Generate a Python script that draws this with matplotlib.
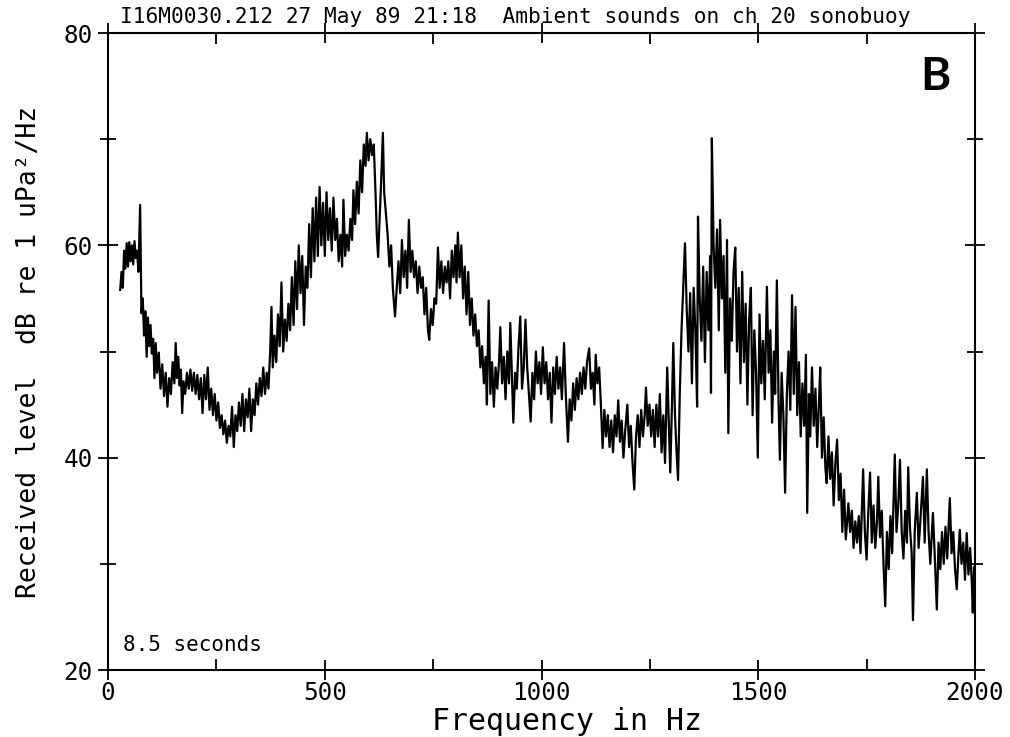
import matplotlib
matplotlib.use('Agg')
import matplotlib.pyplot as plt
from matplotlib.ticker import MultipleLocator

# spectrum (Hz, dB re 1 uPa^2/Hz)
freq_hz = [28, 31, 34, 37, 40, 43, 46, 49, 52, 55,
           58, 61, 64, 67, 70, 74, 77, 80, 83, 86,
           89, 92, 95, 98, 101, 104, 107, 110, 113, 117,
           121, 125, 129, 133, 137, 141, 145, 149, 153, 156,
           159, 162, 165, 168, 171, 174, 178, 182, 186, 190,
           194, 198, 202, 206, 210, 214, 218, 222, 226, 230,
           234, 238, 242, 246, 250, 254, 258, 262, 266, 270,
           274, 278, 282, 286, 290, 294, 298, 302, 306, 310,
           314, 318, 322, 326, 330, 334, 338, 342, 346, 350,
           354, 358, 362, 366, 370, 374, 377, 380, 384, 388,
           392, 396, 400, 404, 408, 412, 416, 420, 424, 428,
           432, 436, 440, 444, 448, 452, 456, 460, 464, 468,
           472, 476, 480, 484, 488, 492, 496, 500, 504, 508,
           512, 516, 520, 524, 528, 532, 536, 540, 543, 547,
           551, 555, 559, 563, 566, 570, 574, 578, 582, 586,
           590, 594, 597, 601, 605, 609, 613, 617, 620, 623,
           627, 630, 634, 637, 641, 645, 649, 653, 657, 662,
           666, 670, 674, 678, 682, 686, 690, 694, 698, 702,
           706, 710, 714, 718, 722, 726, 730, 734, 738, 741,
           745, 749, 753, 757, 761, 765, 769, 773, 777, 781,
           785, 789, 793, 797, 801, 804, 807, 811, 815, 819,
           823, 827, 831, 835, 839, 843, 847, 851, 855, 859,
           863, 867, 871, 874, 878, 882, 886, 890, 894, 898,
           902, 905, 909, 913, 917, 921, 925, 928, 932, 935,
           939, 943, 947, 951, 955, 959, 963, 967, 971, 975,
           979, 983, 987, 991, 995, 999, 1003, 1007, 1011, 1015,
           1019, 1023, 1027, 1031, 1035, 1039, 1043, 1047, 1052, 1056,
           1061, 1065, 1069, 1073, 1077, 1081, 1085, 1089, 1093, 1097,
           1101, 1105, 1110, 1114, 1118, 1122, 1125, 1129, 1133, 1137,
           1141, 1145, 1149, 1153, 1157, 1161, 1165, 1169, 1173, 1177,
           1181, 1185, 1189, 1193, 1198, 1202, 1206, 1210, 1214, 1218,
           1222, 1226, 1230, 1234, 1238, 1241, 1245, 1249, 1253, 1257,
           1261, 1265, 1269, 1273, 1277, 1281, 1285, 1290, 1294, 1297,
           1301, 1304, 1308, 1311, 1315, 1319, 1323, 1327, 1331, 1335,
           1339, 1343, 1347, 1351, 1355, 1359, 1361, 1365, 1369, 1373,
           1377, 1381, 1385, 1389, 1391, 1393, 1397, 1401, 1405, 1409,
           1412, 1416, 1420, 1424, 1428, 1431, 1435, 1439, 1443, 1447,
           1451, 1455, 1459, 1463, 1467, 1471, 1475, 1479, 1483, 1487,
           1491, 1495, 1499, 1503, 1507, 1511, 1515, 1520, 1524, 1528,
           1532, 1536, 1539, 1543, 1547, 1550, 1554, 1558, 1562, 1566,
           1570, 1574, 1578, 1582, 1586, 1590, 1594, 1598, 1602, 1606,
           1610, 1613, 1617, 1620, 1624, 1628, 1632, 1636, 1640, 1643,
           1647, 1651, 1655, 1658, 1662, 1666, 1670, 1674, 1678, 1682,
           1686, 1690, 1694, 1698, 1702, 1708, 1712, 1716, 1720, 1724,
           1728, 1732, 1736, 1742, 1746, 1750, 1754, 1758, 1762, 1766,
           1770, 1774, 1777, 1781, 1785, 1789, 1793, 1797, 1801, 1805,
           1809, 1815, 1819, 1823, 1827, 1831, 1835, 1839, 1843, 1846,
           1850, 1854, 1857, 1861, 1866, 1870, 1874, 1880, 1884, 1889,
           1893, 1897, 1903, 1907, 1912, 1916, 1920, 1924, 1928, 1932,
           1936, 1942, 1946, 1950, 1954, 1958, 1962, 1965, 1969, 1973,
           1977, 1981, 1985, 1989, 1993, 1995, 1998, 2000]

level_db = [55.8, 57.5, 56.0, 59.5, 57.8, 60.2, 58.0, 60.3, 58.5, 60.0,
            58.2, 60.4, 58.8, 59.5, 57.5, 63.8, 53.6, 55.0, 51.5, 53.8,
            49.5, 53.2, 50.5, 52.5, 49.8, 51.2, 47.5, 50.8, 48.0, 49.9,
            46.5, 48.8, 45.8, 48.0, 44.8, 47.5, 46.0, 49.0, 47.0, 50.8,
            47.5, 49.5, 46.8, 48.3, 44.2, 47.2, 46.0, 48.0, 46.5, 48.3,
            46.3, 48.0, 46.0, 47.8, 45.5, 47.5, 44.2, 47.8, 45.5, 48.5,
            44.5, 46.5, 44.0, 46.0, 43.5, 45.2, 42.8, 44.0, 42.2, 43.5,
            41.4, 43.0, 42.0, 44.8, 41.0, 44.0, 42.5, 45.2, 43.0, 46.0,
            42.5, 45.5, 43.8, 46.5, 42.5, 45.5, 44.0, 47.0, 45.0, 47.5,
            45.8, 48.5, 46.0, 48.0, 46.5, 50.0, 54.2, 48.5, 51.5, 49.0,
            53.5, 50.5, 56.5, 50.0, 53.0, 51.0, 54.5, 52.0, 57.0, 52.5,
            58.5, 54.0, 60.0, 55.5, 59.0, 52.5, 58.0, 56.0, 62.0, 57.0,
            63.5, 58.5, 64.5, 59.0, 65.5, 60.0, 64.0, 59.0, 65.0, 60.5,
            63.5, 59.5, 64.5, 60.5, 62.5, 58.5, 61.0, 58.0, 64.3, 59.0,
            61.0, 59.5, 62.5, 60.5, 65.2, 62.0, 66.0, 63.0, 68.0, 65.0,
            69.5, 67.5, 70.6, 68.0, 70.0, 68.5, 69.5, 65.0, 61.0, 58.9,
            63.0, 66.0, 70.6, 65.0, 63.0, 61.0, 58.0, 60.0, 56.0, 53.3,
            56.0, 58.5, 55.5, 60.5, 57.0, 59.5, 56.0, 62.4, 57.5, 59.5,
            57.0, 58.5, 55.5, 58.0, 56.0, 57.0, 53.5, 56.0, 52.0, 51.1,
            54.0, 52.5, 55.0, 54.5, 59.8, 56.0, 58.5, 55.5, 58.0, 56.5,
            58.5, 55.0, 59.5, 57.0, 60.0, 56.5, 61.2, 57.0, 60.0, 55.0,
            58.0, 53.5, 57.5, 52.5, 55.0, 51.5, 53.5, 50.5, 52.0, 48.5,
            50.5, 47.0, 49.5, 45.0, 54.8, 46.0, 49.0, 44.8, 48.5, 46.5,
            49.0, 52.3, 47.0, 49.5, 45.5, 50.0, 47.0, 52.7, 47.5, 43.3,
            48.0, 46.5, 50.5, 53.3, 46.5, 48.5, 53.0, 48.5, 46.0, 43.4,
            48.0, 45.5, 50.0, 47.0, 49.0, 46.0, 50.4, 47.0, 49.0, 45.5,
            48.0, 43.3, 48.5, 46.0, 49.5, 46.5, 48.5, 45.5, 50.8, 46.0,
            41.5, 45.5, 43.5, 47.0, 44.5, 47.5, 45.5, 48.0, 46.0, 48.5,
            46.5, 49.0, 50.3, 46.5, 48.0, 45.0, 49.7, 47.0, 48.5, 45.0,
            40.9, 44.5, 42.0, 44.0, 41.0, 43.5, 40.5, 44.0, 42.0, 45.4,
            41.5, 43.5, 40.0, 42.5, 45.0, 41.0, 43.0, 39.5, 37.0, 42.0,
            44.0, 41.0, 44.5, 42.0, 44.0, 46.6, 43.0, 45.0, 42.0, 44.5,
            41.0, 45.0, 42.0, 46.0, 40.5, 44.0, 39.5, 48.5, 43.0, 38.6,
            45.0, 50.8, 44.0, 41.0, 37.9, 46.0, 52.0, 56.0, 60.2, 54.0,
            50.0, 55.5, 47.0, 56.0, 52.0, 44.8, 62.7, 55.0, 51.0, 58.0,
            49.0, 57.5, 52.0, 59.0, 46.1, 70.1, 60.0, 56.0, 61.5, 52.0,
            62.4, 55.0, 59.0, 48.0, 60.5, 42.3, 55.0, 51.0, 57.5, 59.8,
            50.0, 56.0, 47.0, 57.5, 49.0, 54.5, 45.0, 53.0, 56.0, 44.0,
            52.0, 48.0, 40.0, 53.5, 47.0, 51.0, 45.5, 56.1, 48.0, 52.0,
            43.3, 50.0, 46.0, 56.7, 45.0, 39.8, 48.0, 44.0, 36.7, 46.0,
            50.0, 44.5, 55.3, 46.0, 54.2, 44.0, 49.0, 42.0, 47.0, 43.0,
            49.7, 34.8, 46.0, 42.0, 48.5, 43.0, 46.5, 41.0, 45.0, 48.5,
            40.0, 43.8, 39.0, 37.6, 42.0, 38.0, 40.5, 35.5, 39.5, 41.7,
            36.0, 38.5, 33.0, 37.0, 32.3, 35.7, 33.0, 35.0, 31.5, 34.0,
            32.0, 34.5, 31.0, 38.9, 33.0, 30.4, 35.0, 38.6, 32.0, 35.5,
            31.5, 34.0, 38.2, 32.5, 35.0, 30.0, 26.0, 33.0, 29.5, 34.5,
            31.0, 40.3, 33.0, 35.5, 39.8, 33.0, 30.5, 35.0, 32.0, 39.1,
            33.5, 31.0, 24.7, 33.0, 36.7, 31.5, 34.0, 38.2, 32.0, 38.9,
            33.0, 30.0, 34.8, 31.0, 25.7, 32.0, 29.5, 33.0, 30.0, 33.5,
            30.5, 36.2, 31.0, 33.0, 29.5, 27.6, 31.0, 33.2, 30.0, 32.0,
            28.5, 32.9, 29.0, 31.5, 28.0, 25.4, 29.7, 26.6]

x_ticks = [0, 500, 1000, 1500, 2000]
y_ticks = [20, 40, 60, 80]

mono = 'DejaVu Sans Mono'

fig = plt.figure(figsize=(10.1, 7.37), dpi=100)
ax = fig.add_axes([0.107, 0.0909, 0.8583, 0.8643])

ax.plot(freq_hz, level_db, color='black', lw=1.6)

ax.set_xlim(0, 2000)
ax.set_ylim(20, 80)
ax.set_xticks(x_ticks)
ax.set_yticks(y_ticks)
ax.xaxis.set_minor_locator(MultipleLocator(250))
ax.yaxis.set_minor_locator(MultipleLocator(10))

for s in ax.spines.values():
    s.set_linewidth(1.5)

ax.tick_params(which='major', direction='inout', length=14, width=1.3,
               top=True, right=True, labelsize=17.5)
ax.tick_params(axis='x', which='major', pad=1)
ax.tick_params(axis='y', which='major', pad=4)
ax.tick_params(which='minor', direction='in', length=8, width=1.3,
               top=True, right=True)
ax.tick_params(axis='y', which='minor', direction='inout', length=12)
for lab in ax.get_xticklabels() + ax.get_yticklabels():
    lab.set_family(mono)

ax.set_xlabel('Frequency in Hz', family=mono, fontsize=21.5)
ax.set_ylabel('Received level  dB re 1 uPa²/Hz', family=mono, fontsize=19)
ax.xaxis.set_label_coords(0.529, -0.058)
ax.yaxis.set_label_coords(-0.076, 0.5)

fig.text(0.119, 0.977, 'I16M0030.212 27 May 89 21:18  Ambient sounds on ch 20 sonobuoy',
         family=mono, fontsize=15.2, va='center', ha='left')
ax.text(0.017, 0.04, '8.5 seconds', transform=ax.transAxes,
        family=mono, fontsize=15, va='center', ha='left')
ax.text(0.954, 0.931, 'B', transform=ax.transAxes, family='Lato',
        fontweight='bold', fontsize=33, va='center', ha='center')

fig.savefig('out.png', dpi=100)
